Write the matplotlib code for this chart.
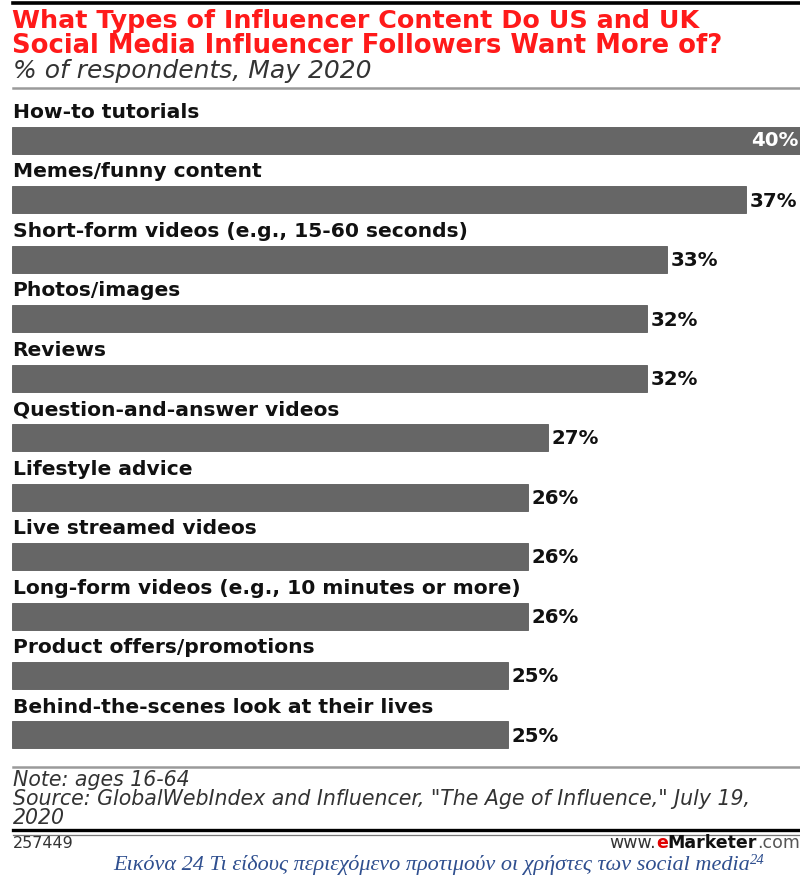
import matplotlib
matplotlib.use("Agg")
import matplotlib.pyplot as plt
from matplotlib.lines import Line2D

# data
categories = [
    "How-to tutorials",
    "Memes/funny content",
    "Short-form videos (e.g., 15-60 seconds)",
    "Photos/images",
    "Reviews",
    "Question-and-answer videos",
    "Lifestyle advice",
    "Live streamed videos",
    "Long-form videos (e.g., 10 minutes or more)",
    "Product offers/promotions",
    "Behind-the-scenes look at their lives",
]
values = [40, 37, 33, 32, 32, 27, 26, 26, 26, 25, 25]

W, H = 800, 877
fig = plt.figure(figsize=(W / 100, H / 100), dpi=100)
fig.patch.set_facecolor("white")


def fx(px):
    return px / W


def fy(py):
    return 1 - py / H


def hline(y, x0, x1, color, lw):
    fig.add_artist(Line2D([fx(x0), fx(x1)], [fy(y), fy(y)], color=color,
                          linewidth=lw, transform=fig.transFigure))


# header
hline(3, 13, 800, "black", 2.6)
fig.text(fx(12), fy(21), "What Types of Influencer Content Do US and UK",
         color="#ff1a1a", fontsize=18.3, fontweight="bold", va="center", ha="left")
fig.text(fx(12), fy(46), "Social Media Influencer Followers Want More of?",
         color="#ff1a1a", fontsize=18.6, fontweight="bold", va="center", ha="left")
fig.text(fx(13), fy(71), "% of respondents, May 2020", color="#333333",
         fontsize=18, fontstyle="italic", va="center", ha="left")
hline(88, 13, 800, "#9a9a9a", 1.8)

# bars
pitch = 59.45
top_px, bottom_px = 95.9, 764.7
ax = fig.add_axes([fx(12), fy(bottom_px), fx(800) - fx(12), (bottom_px - top_px) / H])
ax.set_xlim(0, 788 / 19.84)
ax.set_ylim(10.5, -0.75)
ax.axis("off")

pos = list(range(len(categories)))
ax.barh(pos, values, height=27 / pitch, color="#666666", edgecolor="#5a5a5a",
        linewidth=0.6)
for i, (cat, v) in enumerate(zip(categories, values)):
    ax.text(0.03, i - 0.47, cat, fontsize=14.6, fontweight="bold", color="#111111",
            va="center", ha="left")
    if v >= 39:
        ax.text(39.65, i + 0.0, f"{v}%", fontsize=14.2, fontweight="bold",
                color="white", va="center", ha="right")
    else:
        ax.text(v + 0.2, i + 0.02, f"{v}%", fontsize=14.2, fontweight="bold",
                color="#111111", va="center", ha="left")

# footer
hline(767, 13, 800, "#9a9a9a", 1.8)
fig.text(fx(13), fy(780), "Note: ages 16-64", color="#333333", fontsize=14.8,
         fontstyle="italic", va="center", ha="left")
fig.text(fx(13), fy(799), 'Source: GlobalWebIndex and Influencer, "The Age of Influence," July 19,',
         color="#333333", fontsize=14.8, fontstyle="italic", va="center", ha="left")
fig.text(fx(13), fy(818), "2020", color="#333333", fontsize=14.8,
         fontstyle="italic", va="center", ha="left")
hline(830, 13, 800, "black", 2.4)
hline(834.5, 13, 800, "#777777", 0.9)
fig.text(fx(13), fy(844), "257449", color="#333333", fontsize=11.5,
         va="center", ha="left")

# www.eMarketer.com, built from right to left
fig.canvas.draw()
r = fig.canvas.get_renderer()
parts = [(".com", "#555555", "normal"), ("Marketer", "#111111", "bold"),
         ("e", "#e00000", "bold"), ("www.", "#333333", "normal")]
x_right = 800
for s, c, w in parts:
    t = fig.text(fx(x_right), fy(843), s, color=c, fontsize=12.5, fontweight=w,
                 va="center", ha="right")
    x_right -= t.get_window_extent(r).width

# caption in serif italic with superscript
cap = fig.text(fx(113), fy(865), "Εικόνα 24 Τι είδους περιεχόμενο προτιμούν οι χρήστες των social media",
               color="#2f4f8f", fontsize=16, fontstyle="italic",
               family="Liberation Serif", va="center", ha="left")
bb = cap.get_window_extent(r)
fig.text(fx(113) + bb.width / W, fy(860), "24", color="#2f4f8f", fontsize=10.5,
         fontstyle="italic", family="Liberation Serif", va="center", ha="left")

fig.savefig("out.png", dpi=100, facecolor="white")
